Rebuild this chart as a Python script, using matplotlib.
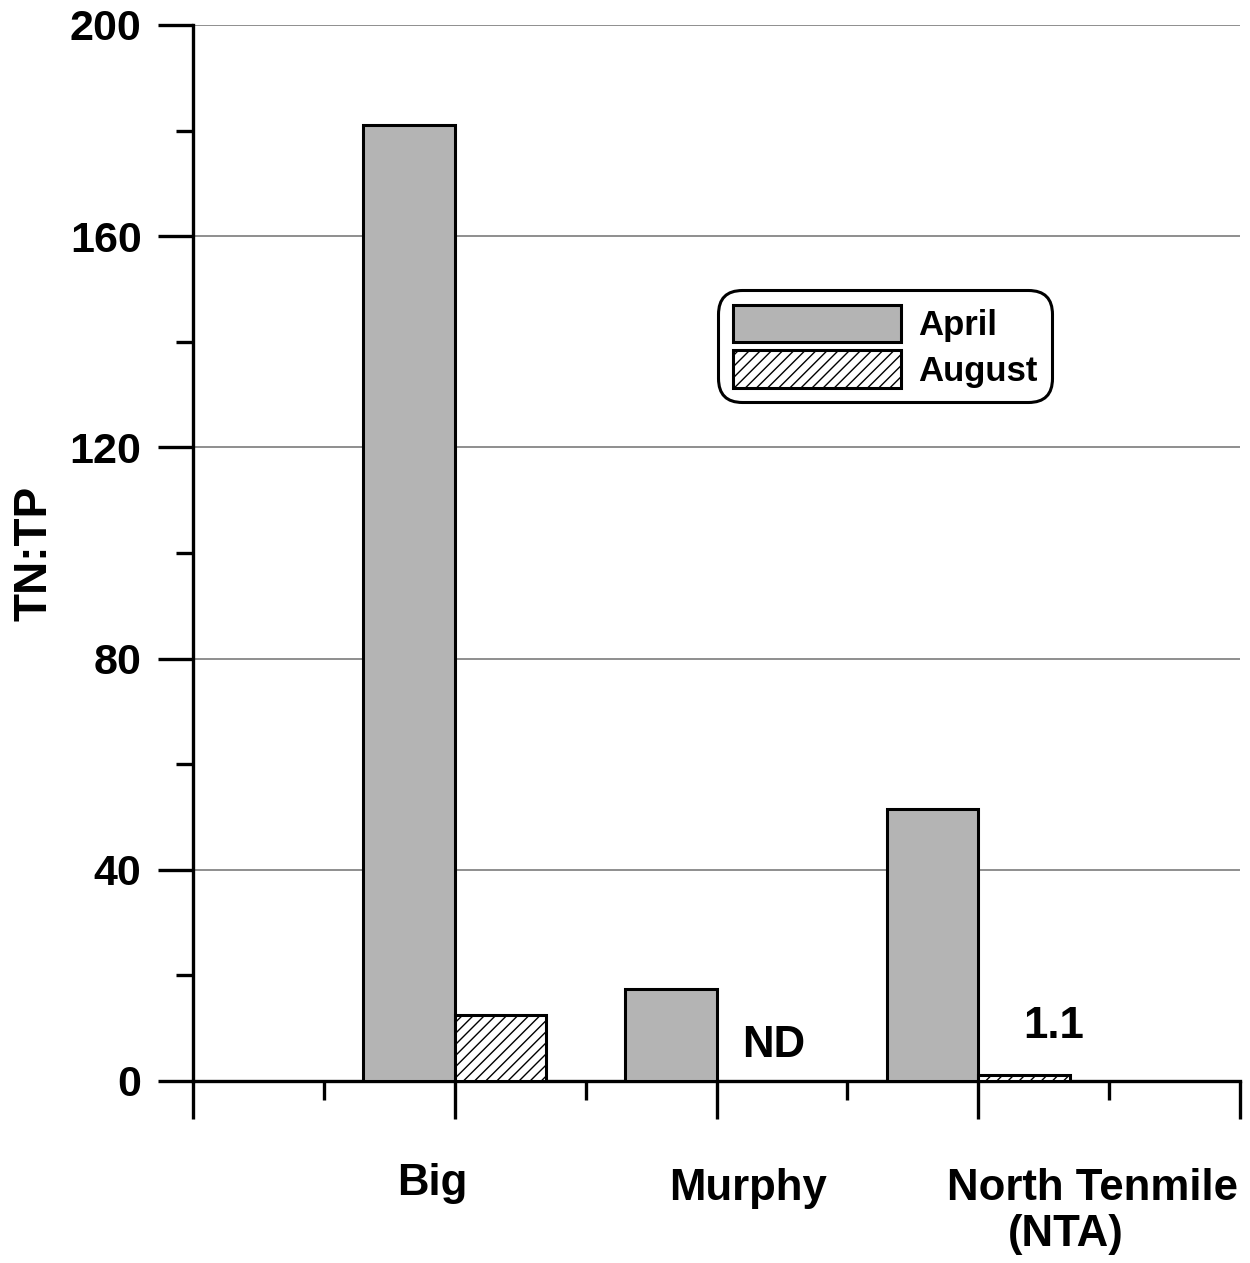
import matplotlib
matplotlib.use("Agg")
import matplotlib.pyplot as plt
import numpy as np

plt.rcParams["font.family"] = ["Liberation Sans", "DejaVu Sans"]
plt.rcParams["font.weight"] = "bold"
plt.rcParams["hatch.linewidth"] = 1.0

# data
sites = ["Big", "Murphy", "North Tenmile\n(NTA)"]
april = [181, 17.4, 51.5]
august = [12.5, np.nan, 1.1]      # Murphy August not determined
notes = ["", "ND", "1.1"]
series = ["April", "August"]

GROUP_X = np.array([2, 4, 6])
W = 0.7
FS = 31.5

fig = plt.figure(figsize=(12.5, 12.63), dpi=100)
ax = fig.add_axes([193/1250, 1 - 1081/1263, 1047/1250, 1056/1263])

b1 = ax.bar(GROUP_X - W/2, april, W, color="#b4b4b4", edgecolor="black",
            linewidth=2.2, label=series[0], zorder=3)
b2 = ax.bar(GROUP_X + W/2, np.nan_to_num(august), W, color="white", edgecolor="black",
            linewidth=2.2, hatch="///", label=series[1], zorder=3)
b2[1].set_visible(False)

ax.set_xlim(0, 8)
ax.set_ylim(0, 200)
ax.set_yticks(np.arange(0, 201, 40))
ax.set_yticks(np.arange(20, 200, 40), minor=True)
ax.set_xticks(np.arange(0, 9, 2))
ax.set_xticks(np.arange(1, 8, 2), minor=True)
ax.set_xticklabels([])
ax.tick_params(axis="y", which="major", length=25, width=2.4, labelsize=31, pad=12)
ax.tick_params(axis="y", which="minor", length=12.5, width=2.4)
ax.tick_params(axis="x", which="major", length=27, width=2.4)
ax.tick_params(axis="x", which="minor", length=13.5, width=2.4)
for s in ("top", "right"):
    ax.spines[s].set_visible(False)
for s in ("left", "bottom"):
    ax.spines[s].set_linewidth(2.4)
ax.grid(axis="y", which="major", color="#707070", linewidth=1.1, zorder=0)
ax.set_axisbelow(True)

ax.set_ylabel("TN:TP", fontsize=33, fontweight="bold")
ax.yaxis.set_label_coords(-0.130, 0.5)

# site names below the axis (offset from group centres like the original)
lab_dx = [-0.17, 0.24, 0.87]
for x, name, dx in zip(GROUP_X, sites, lab_dx):
    if "\n" in name:
        top, bot = name.split("\n")
        ax.text(x + dx, -0.102, top, transform=ax.get_xaxis_transform(),
                ha="center", va="center", fontsize=FS, fontweight="bold")
        ax.text(x + dx - 0.2, -0.145, bot, transform=ax.get_xaxis_transform(),
                ha="center", va="center", fontsize=FS, fontweight="bold")
    else:
        ax.text(x + dx, -0.097 if name == "Big" else -0.102, name,
                transform=ax.get_xaxis_transform(),
                ha="center", va="center", fontsize=FS, fontweight="bold")

# notes over missing / tiny August bars
for x, note in zip(GROUP_X, notes):
    if note == "ND":
        ax.text(x + 0.44, 6.8, note, ha="center", va="center", fontsize=FS, fontweight="bold")
    elif note:
        ax.text(x + 0.58, 10.3, note, ha="center", va="center", fontsize=FS, fontweight="bold")

leg = ax.legend(handles=[b1, b2], loc="upper left", bbox_to_anchor=(718/1250, 1 - 290/1263),
                bbox_transform=fig.transFigure, fontsize=25, frameon=True, fancybox=True,
                handlelength=4.84, handleheight=1.3, handletextpad=0.5, labelspacing=0.22,
                borderpad=0.42, borderaxespad=0)
frame = leg.get_frame()
frame.set_edgecolor("black")
frame.set_linewidth(2.2)
frame.set_alpha(1)
frame.set_boxstyle("round,pad=0,rounding_size=0.7")
for t in leg.get_texts():
    t.set_fontweight("bold")

fig.savefig("out.png", dpi=100)
